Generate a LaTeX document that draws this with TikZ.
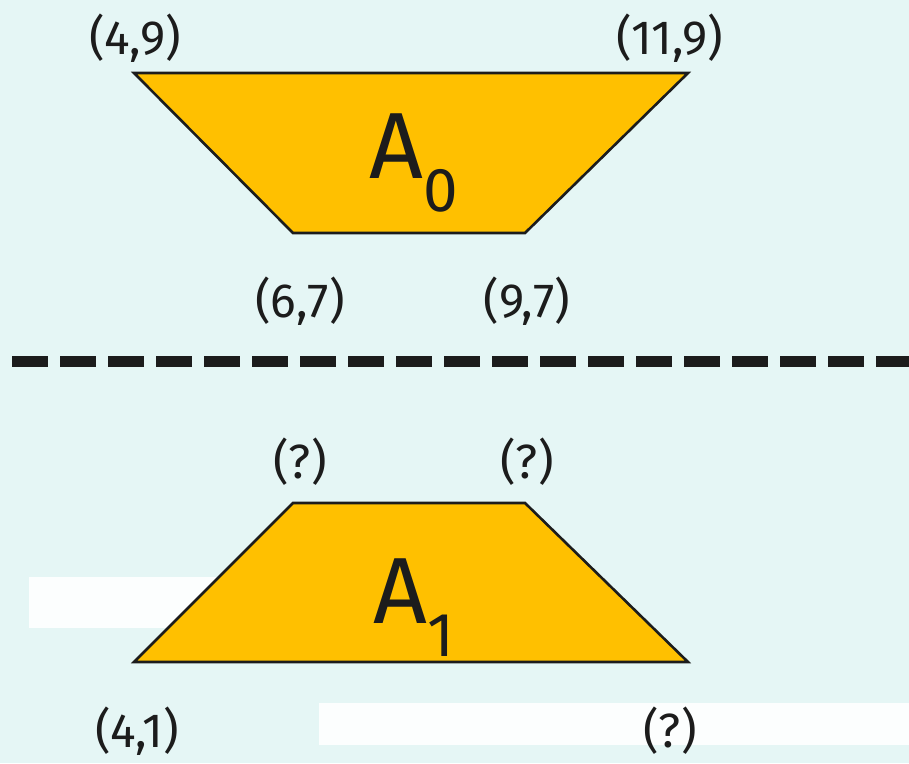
\documentclass[tikz,border=0pt]{standalone}
\usepackage{fontspec}
\setmainfont{Fira Sans}
\definecolor{bgc}{HTML}{E5F6F5}
\definecolor{trap}{HTML}{FFC000}
\definecolor{ink}{HTML}{1C1C1C}
\begin{document}
\begin{tikzpicture}[x=1pt,y=-1pt,
  trapfill/.style={fill=trap,draw=ink,line width=2.6pt,line join=miter},
  lbl/.style={font=\fontsize{48}{52}\selectfont,text=ink,inner sep=0pt},
  big/.style={font=\fontsize{94}{100}\selectfont,text=ink,inner sep=0pt}]
\fill[bgc] (0,0) rectangle (909,763);
\useasboundingbox (0,0) rectangle (909,763);
\fill[white,opacity=0.9] (29,577) rectangle (300,628);
\fill[white,opacity=0.9] (319,703) rectangle (909,745);
% top trapezoid
\coordinate (a) at (134,73);
\coordinate (b) at (688,73);
\coordinate (c) at (525,233);
\coordinate (d) at (293,233);
\draw[trapfill] (a) -- (b) -- (c) -- (d) -- cycle;
\node[big] (A0) at (414,163) {A\textsubscript{\fontsize{62}{62}\selectfont 0}};
% bottom trapezoid
\coordinate (e) at (293,503);
\coordinate (f) at (525,503);
\coordinate (g) at (688,662);
\coordinate (h) at (134,662);
\draw[trapfill] (e) -- (f) -- (g) -- (h) -- cycle;
\node[big] (A1) at (414,608) {A\textsubscript{\fontsize{62}{62}\selectfont 1}};
% labels
\node[lbl] (l1) at (135,38) {(4,9)};
\node[lbl] (l2) at (670,38) {(11,9)};
\node[lbl] (l3) at (300,301) {(6,7)};
\node[lbl] (l4) at (527,301) {(9,7)};
\node[lbl] (l5) at (300,462) {(?)};
\node[lbl] (l6) at (527,462) {(?)};
\node[lbl] (l7) at (137,731) {(4,1)};
\node[lbl] (l8) at (670,731) {(?)};
% dashed divider
\coordinate (s1) at (12,361);
\coordinate (s2) at (909,361);
\draw[ink,line width=11pt,dash pattern=on 36pt off 12pt] (s1) -- (s2);
\end{tikzpicture}
\end{document}
